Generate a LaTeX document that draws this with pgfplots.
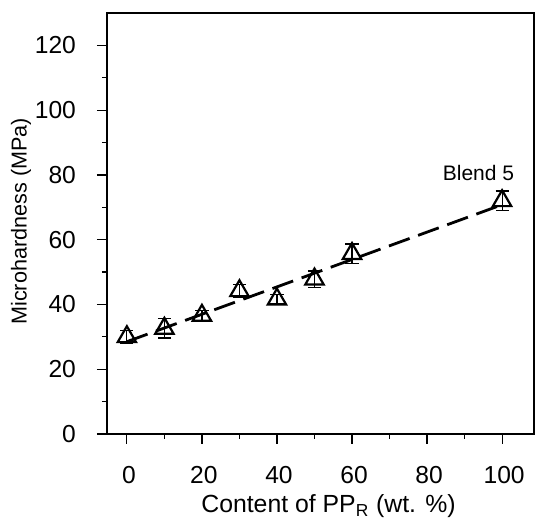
\documentclass[border=0pt]{standalone}
\usepackage{pgfplots}
\pgfplotsset{compat=1.18}
\usepackage{fontspec}
\setmainfont{Liberation Sans}
\begin{document}
\begin{tikzpicture}
\begin{axis}[
  name=ax,
  scale only axis,
  width=213.5pt, height=210.5pt,
  xmin=-5.3, xmax=108.5,
  ymin=0, ymax=130,
  xtick={0,20,40,60,80,100},
  ytick={0,20,40,60,80,100,120},
  minor xtick={10,30,50,70,90},
  minor ytick={10,30,50,70,90,110},
  tick align=outside,
  xtick pos=bottom, ytick pos=left,
  major tick length=5pt, minor tick length=2.5pt,
  every tick/.style={black, line width=0.6pt},
  axis line style={line width=0.6pt},
  /pgf/number format/assume math mode=true,
  tick label style={font=\fontsize{12.3}{14}\selectfont},
  xticklabel style={yshift=-7.5pt, xshift=1pt},
  yticklabel shift=7pt,
  xlabel={Content of PP\textsubscript{R} (wt. \%)},
  ylabel={Microhardness (MPa)},
  xlabel style={font=\fontsize{12.4}{14}\selectfont, at={(axis description cs:0.5187,-0.1876)}, anchor=base},
  ylabel style={font=\fontsize{10.8}{13}\selectfont, at={(axis description cs:-0.2014,0.505)}, anchor=center},
  clip=false,
]
\addplot[black, line width=1.4pt, dash pattern=on 11pt off 4.5pt] coordinates {(0,28.5) (100,70.8)};
\addplot[black, only marks, mark=triangle, mark size=5.3pt, line width=1.1pt,
  error bars/.cd, y dir=both, y explicit, error bar style={line width=0.6pt}, error mark options={rotate=90, mark size=3.3pt, line width=0.7pt}]
  coordinates {
  (0,30) +- (0,2)
  (10,32.6) +- (0,3)
  (20,36.6) +- (0,1.5)
  (30,44.2) +- (0,2)
  (40,41.6) +- (0,1.5)
  (50,47.8) +- (0,2.5)
  (60,55.7) +- (0,3)
  (100,72) +- (0,3)
  };
\node[font=\fontsize{10.5}{12}\selectfont] at (axis cs:93.7,80.5) {Blend 5};
\end{axis}
\pgfresetboundingbox
\path[use as bounding box] ([xshift=-53.5pt,yshift=-43.5pt]ax.south west) rectangle ([xshift=1.5pt,yshift=6.5pt]ax.north east);
\end{tikzpicture}
\end{document}
